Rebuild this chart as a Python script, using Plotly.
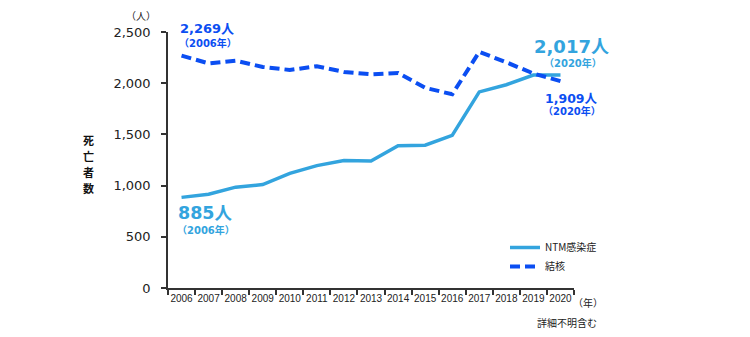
import plotly.graph_objects as go

years = ["2006", "2007", "2008", "2009", "2010", "2011", "2012", "2013",
         "2014", "2015", "2016", "2017", "2018", "2019", "2020"]
ntm_deaths = [885, 915, 985, 1010, 1120, 1195, 1245, 1240,
              1390, 1395, 1490, 1915, 1985, 2080, 2080]
tb_deaths = [2269, 2194, 2220, 2159, 2129, 2166, 2110, 2087,
             2100, 1955, 1892, 2306, 2204, 2095, 2020]
series_names = ["NTM感染症", "結核"]

LIGHT = "#33a4de"
DARK = "#0b4ef2"
TXT = "#222222"
NUMFONT = "DejaVu Sans, Noto Sans CJK JP"
JPFONT = "Noto Sans CJK JP, DejaVu Sans"

fig = go.Figure()
fig.add_trace(go.Scatter(x=years, y=ntm_deaths, name=series_names[0], mode="lines",
                         line=dict(color=LIGHT, width=3.5)))
fig.add_trace(go.Scatter(x=years, y=tb_deaths, name=series_names[1], mode="lines",
                         line=dict(color=DARK, width=4, dash="10px,5px")))

L, R, T, B = 168, 176, 32, 49
W, H = 750, 337
pw, ph = W - L - R, H - T - B


def px(x):
    return (x - L) / pw


def py(y):
    return (H - B - y) / ph


anns = []


def add(text, x, y, size, color=TXT, bold=False, font=NUMFONT, xanchor="center", **kw):
    t = f"<b>{text}</b>" if bold else text
    anns.append(dict(text=t, x=px(x), y=py(y), xref="paper", yref="paper",
                     showarrow=False, xanchor=xanchor, yanchor="middle",
                     font=dict(size=size, color=color, family=font), **kw))


add("2,269人", 207, 28, 13, DARK, True)
add("（2006年）", 208, 43, 10, DARK, True)
add("885人", 205, 213, 17.5, LIGHT, True)
add("（2006年）", 206, 230, 10, LIGHT, True)
add("2,017人", 571, 46, 18, LIGHT, True)
add("（2020年）", 573, 63, 10, LIGHT, True)
add("1,909人", 571, 98, 12.5, DARK, True)
add("（2020年）", 572, 111, 10, DARK, True)
add("（人）", 141, 15, 10, TXT, False, JPFONT)
add("（年）", 588, 302, 10, TXT, False, JPFONT)
add("詳細不明含む", 599, 322, 10, TXT, False, JPFONT, "right")
for i, ch in enumerate("死亡者数"):
    add(ch, 88, 140 + i * 16, 11, "#111111", True, JPFONT)

fig.update_layout(
    width=W, height=H, autosize=False,
    margin=dict(l=L, r=R, t=T, b=B, pad=0),
    plot_bgcolor="white", paper_bgcolor="white",
    annotations=anns,
    showlegend=True,
    legend=dict(x=px(505), y=py(233), xanchor="left", yanchor="top",
                font=dict(size=10, color=TXT, family=JPFONT),
                bgcolor="rgba(0,0,0,0)", tracegroupgap=0, itemwidth=30),
    xaxis=dict(type="category", categoryorder="array", categoryarray=years,
               range=[-0.5, 14.5], tickangle=0,
               tickson="boundaries", ticks="outside", ticklen=5, tickwidth=1.5,
               tickcolor="#333", showline=True, linecolor="#333", linewidth=1.5,
               showgrid=False, zeroline=False,
               tickfont=dict(size=10, color=TXT, family="Liberation Sans, Arial")),
    yaxis=dict(range=[0, 2500], dtick=500, tickformat=",", ticks="outside",
               ticklen=5, tickwidth=1.5, tickcolor="#333", showline=True,
               linecolor="#333", linewidth=1.5, showgrid=False, zeroline=False,
               ticklabelstandoff=8,
               tickfont=dict(size=13, color=TXT, family="DejaVu Sans")),
)

fig.write_html("out.html")
